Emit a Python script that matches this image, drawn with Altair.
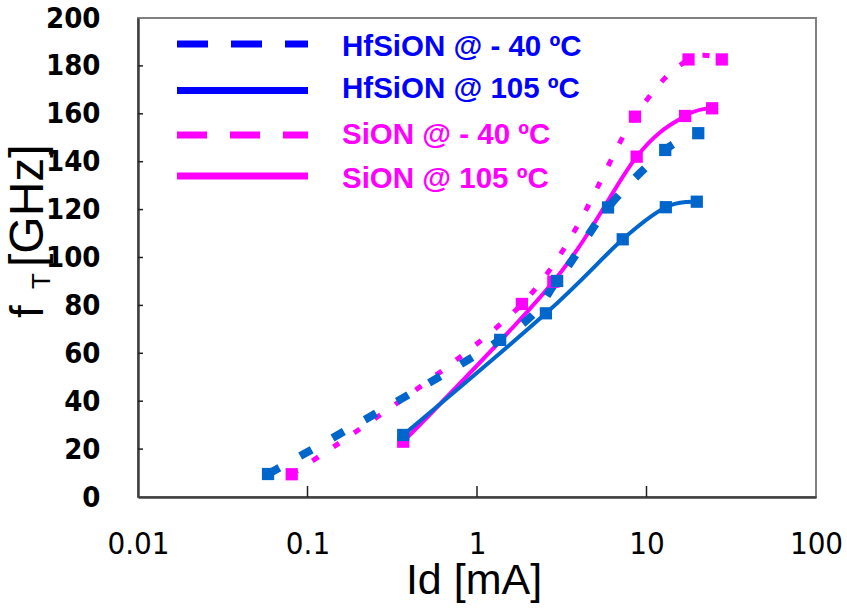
import altair as alt
import pandas as pd

# fT versus drain current for two gate dielectrics at two temperatures
hf_cold_id = [0.0585, 1.37, 2.97, 5.93, 12.9, 20.2]
hf_cold_ft = [9.6, 65.6, 90.2, 120.9, 144.9, 151.9]

hf_hot_id = [0.367, 2.55, 7.24, 13.0, 19.8]
hf_hot_ft = [25.9, 76.7, 107.6, 121.0, 123.3]

si_cold_id = [0.0807, 1.84, 8.55, 17.7, 27.8]
si_cold_ft = [9.5, 80.6, 158.8, 182.7, 182.7]

si_hot_id = [0.367, 2.82, 8.75, 16.9, 24.4]
si_hot_ft = [23.1, 89.9, 142.1, 159.1, 162.3]

series_labels = ["HfSiON @ - 40 ºC", "HfSiON @ 105 ºC", "SiON @ - 40 ºC", "SiON @ 105 ºC"]

x_tick_values = [0.01, 0.1, 1, 10, 100]
x_inner_ticks = [0.1, 1, 10]
y_tick_values = [0, 20, 40, 60, 80, 100, 120, 140, 160, 180, 200]
y_inner_ticks = [20, 40, 60, 80, 100, 120, 140, 160, 180]

W, H = 678, 479
BLUE_LINE = "#0066CC"
MAGENTA = "#FF00FF"
BLUE_TEXT = "#0000FF"

NARROW = "Liberation Sans Narrow, DejaVu Sans Condensed, sans-serif"
SANS = "Liberation Sans, Arial, sans-serif"

x_scale = alt.Scale(type="log", domain=[0.01, 100])
y_scale = alt.Scale(domain=[0, 200])

x_axis = alt.Axis(
    values=x_tick_values, format="~g", title=None, grid=False, ticks=False,
    labelFont=NARROW, labelFontSize=31, labelColor="black", labelPadding=32,
    labelOverlap=False, labelFlush=False,
    domainColor="#404040", domainWidth=2.5,
)
y_axis = alt.Axis(
    values=y_tick_values, title=None, grid=False, ticks=False,
    labelFont=NARROW, labelFontSize=29, labelFontWeight="bold", labelColor="black",
    labelPadding=38, labelOverlap=False, labelFlush=False,
    domainColor="#404040", domainWidth=2.5,
)


def frame(ids, fts):
    return pd.DataFrame({"Id": ids, "fT": fts})


def enc():
    return dict(
        x=alt.X("Id:Q", scale=x_scale, axis=x_axis),
        y=alt.Y("fT:Q", scale=y_scale, axis=y_axis),
    )


si_cold = frame(si_cold_id, si_cold_ft)
si_hot = frame(si_hot_id, si_hot_ft)
hf_cold = frame(hf_cold_id, hf_cold_ft)
hf_hot = frame(hf_hot_id, hf_hot_ft)

# smoothed curves through the measured points
lines = [
    alt.Chart(si_cold).mark_line(color=MAGENTA, strokeWidth=5, strokeDash=[7, 18],
                                 interpolate="cardinal").encode(**enc()),
    alt.Chart(si_hot).mark_line(color=MAGENTA, strokeWidth=4,
                                interpolate="cardinal").encode(**enc()),
    alt.Chart(hf_cold).mark_line(color=BLUE_LINE, strokeWidth=8, strokeDash=[13, 24],
                                 interpolate="cardinal").encode(**enc()),
    alt.Chart(hf_hot).mark_line(color=BLUE_LINE, strokeWidth=4,
                                interpolate="cardinal").encode(**enc()),
]

points = []
for df, col in [(si_cold, MAGENTA), (si_hot, MAGENTA), (hf_cold, BLUE_LINE), (hf_hot, BLUE_LINE)]:
    points.append(
        alt.Chart(df).mark_point(shape="square", filled=True, size=150, color=col, opacity=1)
        .encode(**enc())
    )

# inward tick marks on the bottom and left frame
x_ticks = alt.Chart(pd.DataFrame({"Id": x_inner_ticks})).mark_rule(
    color="#202020", strokeWidth=1.5
).encode(x=alt.X("Id:Q", scale=x_scale, axis=x_axis), y=alt.value(H), y2=alt.value(H - 11))

y_ticks = alt.Chart(pd.DataFrame({"fT": y_inner_ticks})).mark_rule(
    color="#202020", strokeWidth=1.5
).encode(y=alt.Y("fT:Q", scale=y_scale, axis=y_axis), x=alt.value(0), x2=alt.value(5))

# legend drawn inside the plot, upper left
legend_line_colors = [BLUE_TEXT, BLUE_TEXT, MAGENTA, MAGENTA]
legend_text_colors = [BLUE_TEXT, BLUE_TEXT, MAGENTA, MAGENTA]
legend_dashes = [[31, 23], None, [30, 23], None]
legend_line_y = [26, 72.5, 117, 158]
legend_text_y = [28.5, 71, 117, 161]

legend = []
for i, label in enumerate(series_labels):
    row = pd.DataFrame({"label": [label]})
    rule_kw = dict(color=legend_line_colors[i], strokeWidth=7)
    if legend_dashes[i] is not None:
        rule_kw["strokeDash"] = legend_dashes[i]
    legend.append(
        alt.Chart(row).mark_rule(**rule_kw).encode(
            x=alt.value(39), x2=alt.value(170), y=alt.value(legend_line_y[i])
        )
    )
    legend.append(
        alt.Chart(row).mark_text(
            font=SANS, fontSize=29.5, fontWeight="bold", color=legend_text_colors[i],
            align="left", baseline="middle",
        ).encode(x=alt.value(204), y=alt.value(legend_text_y[i]), text="label:N")
    )

# axis titles: f with subscript T on the left, Id [mA] below
y_title_parts = ["f", "T", "[GHz]"]
y_title_sizes = [46, 26, 48]
y_title_x = [-95, -88, -95]
y_title_y = [300, 271, 249]

titles = []
for part, size, tx, ty in zip(y_title_parts, y_title_sizes, y_title_x, y_title_y):
    titles.append(
        alt.Chart(pd.DataFrame({"t": [part]})).mark_text(
            font=SANS, fontSize=size, color="black", angle=270,
            align="left", baseline="alphabetic",
        ).encode(x=alt.value(tx), y=alt.value(ty), text="t:N")
    )

x_title = ["Id [mA]"]
titles.append(
    alt.Chart(pd.DataFrame({"t": x_title})).mark_text(
        font=SANS, fontSize=43, color="black", align="center", baseline="alphabetic",
    ).encode(x=alt.value(W / 2 - 3), y=alt.value(576), text="t:N")
)

chart = alt.layer(*lines, *points, x_ticks, y_ticks, *legend, *titles).properties(
    width=W, height=H,
    autosize=alt.AutoSizeParams(type="none"),
    padding={"left": 138, "top": 18, "right": 31, "bottom": 111},
    background="white",
).configure_view(stroke="#808080", strokeWidth=2)

chart.save("out.html", embed_options={"renderer": "svg", "actions": False})
